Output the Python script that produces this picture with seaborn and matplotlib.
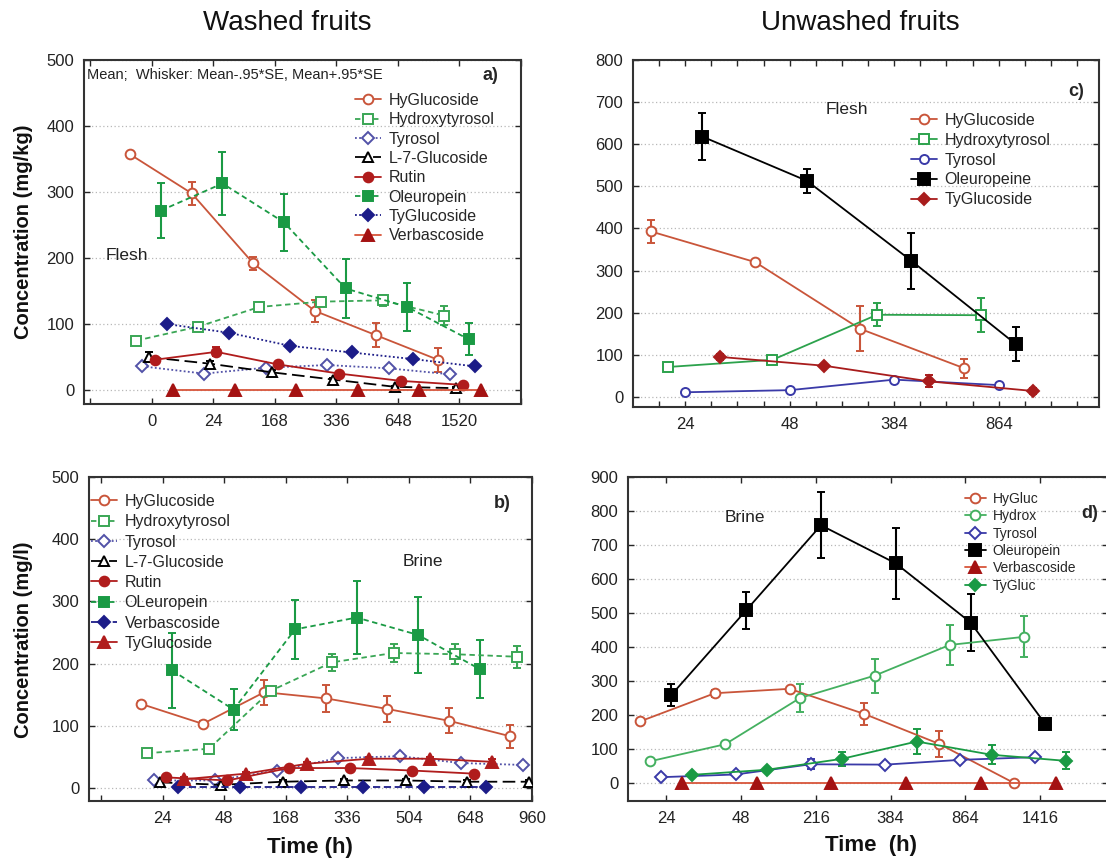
import numpy as np
import pandas as pd
import matplotlib
matplotlib.use("Agg")
import matplotlib.pyplot as plt
import seaborn as sns
from matplotlib.ticker import FixedLocator

# ---------------- data ----------------
# a) washed fruits, flesh (mg/kg)
A_TIMES = ["0", "24", "168", "336", "648", "1520"]
A_HYGLUCOSIDE = [357, 298, 192, 120, 83, 46]
A_HYGLUCOSIDE_SE = [4, 17, 10, 17, 18, 18]
A_HYDROXYTYROSOL = [75, 96, 126, 134, 136, 113]
A_HYDROXYTYROSOL_SE = [4, 5, 8, 6, 8, 14]
A_TYROSOL = [36, 25, 34, 38, 33, 24]
A_TYROSOL_SE = [3, 3, 3, 3, 3, 3]
A_L7GLUCOSIDE = [50, 40, 27, 16, 5, 3]
A_L7GLUCOSIDE_SE = [7, 4, 3, 3, 2, 2]
A_RUTIN = [46, 58, 39, 25, 14, 8]
A_RUTIN_SE = [4, 7, 3, 3, 2, 2]
A_OLEUROPEIN = [272, 313, 254, 154, 126, 77]
A_OLEUROPEIN_SE = [41, 48, 43, 45, 37, 24]
A_TYGLUCOSIDE = [100, 87, 67, 57, 47, 36]
A_TYGLUCOSIDE_SE = [3, 3, 3, 3, 3, 3]
A_VERBASCOSIDE = [0, 0, 0, 0, 0, 0]

# b) washed fruits, brine (mg/l)
B_TIMES = ["24", "48", "168", "336", "504", "648", "960"]
B_HYGLUCOSIDE = [135, 103, 154, 144, 127, 108, 83]
B_HYGLUCOSIDE_SE = [4, 5, 20, 22, 21, 20, 18]
B_HYDROXYTYROSOL = [56, 63, 156, 202, 217, 215, 211]
B_HYDROXYTYROSOL_SE = [3, 4, 5, 14, 15, 16, 18]
B_TYROSOL = [12, 12, 28, 48, 51, 40, 37]
B_TYROSOL_SE = [3, 3, 3, 3, 3, 3, 3]
B_L7GLUCOSIDE = [9, 5, 10, 12, 12, 10, 10]
B_L7GLUCOSIDE_SE = [2, 2, 2, 2, 2, 2, 2]
B_RUTIN = [17, 12, 32, 32, 28, 23]
B_RUTIN_SE = [3, 3, 3, 3, 3, 3]
B_OLEUROPEIN = [189, 126, 255, 274, 246, 191]
B_OLEUROPEIN_SE = [60, 33, 48, 58, 61, 47]
B_VERBASCOSIDE = [2, 2, 2, 2, 2, 2]
B_TYGLUCOSIDE = [14, 23, 39, 47, 47, 42]
B_TYGLUCOSIDE_SE = [3, 3, 3, 3, 3, 5]

# c) unwashed fruits, flesh (mg/kg)
C_TIMES = ["24", "48", "384", "864"]
C_HYGLUCOSIDE = [393, 320, 162, 68]
C_HYGLUCOSIDE_SE = [28, 6, 53, 22]
C_HYDROXYTYROSOL = [71, 88, 195, 194]
C_HYDROXYTYROSOL_SE = [4, 4, 27, 40]
C_TYROSOL = [11, 16, 41, 28]
C_TYROSOL_SE = [3, 3, 4, 4]
C_OLEUROPEINE = [618, 513, 323, 125]
C_OLEUROPEINE_SE = [55, 29, 67, 40]
C_TYGLUCOSIDE = [95, 74, 37, 14]
C_TYGLUCOSIDE_SE = [8, 5, 14, 8]

# d) unwashed fruits, brine (mg/l)
D_TIMES = ["24", "48", "216", "384", "864", "1416"]
D_HYGLUC = [181, 264, 277, 203, 115, 0]
D_HYGLUC_SE = [5, 10, 5, 32, 38, 3]
D_HYDROX = [64, 114, 250, 316, 406, 430]
D_HYDROX_SE = [4, 6, 40, 50, 60, 60]
D_TYROSOL = [17, 25, 55, 54, 68, 76]
D_TYROSOL_SE = [3, 3, 15, 5, 5, 5]
D_OLEUROPEIN = [259, 508, 758, 646, 472, 173]
D_OLEUROPEIN_SE = [32, 55, 97, 105, 83, 15]
D_VERBASCOSIDE = [0, 0, 0, 0, 0, 0]
D_TYGLUC = [24, 39, 71, 122, 83, 65]
D_TYGLUC_SE = [3, 5, 20, 38, 28, 25]

# ---------------- styling ----------------
sns.set_theme(style="ticks")
plt.rcParams["font.family"] = ["Liberation Sans", "DejaVu Sans"]
plt.rcParams["axes.unicode_minus"] = False

W, H = 1106, 861
fig = plt.figure(figsize=(W / 100, H / 100), dpi=100)
fig.patch.set_facecolor("white")


def fx(px):
    return px / W


def fy(py):
    return 1 - py / H


RED = "#c9553a"
DKRED = "#b01c1c"
TRI_RED = "#a41212"
GREEN_L = "#3aa655"
GREEN = "#1a9a44"
NAVY_L = "#5252a8"
NAVY = "#1c1c88"

SOLID = "-"
SHORT = (0, (3, 2))
DOT = (0, (1, 1.3))
LONG = (0, (7, 3))


def series(ax, pos, values, errs, color, marker, filled, ls, mcolor=None, ms=7.0, lw=1.3):
    mc = mcolor or color
    x = np.arange(len(values)) + pos
    df = pd.DataFrame({"t": x, "c": values})
    sns.lineplot(data=df, x="t", y="c", ax=ax, color=color, linestyle=ls, linewidth=lw,
                 marker=marker, markersize=ms, markerfacecolor=mc if filled else "white",
                 markeredgecolor=mc, markeredgewidth=1.4, errorbar=None, legend=False,
                 sort=False, zorder=3)
    line = ax.lines[-1]
    if errs is not None:
        ax.errorbar(x, values, yerr=errs, fmt="none", ecolor=mc, elinewidth=1.5,
                    capsize=2.8, capthick=1.4, zorder=2)
    return line


def frame(ax, cats, xlim, ylim, ystep, minor=None):
    ax.set_xlim(*xlim)
    ax.set_ylim(*ylim)
    ax.xaxis.set_major_locator(FixedLocator(np.arange(len(cats))))
    ax.set_xticklabels(cats)
    if minor is not None:
        ax.xaxis.set_minor_locator(FixedLocator(minor))
    ax.set_yticks(np.arange(0, ylim[1] + 1, ystep))
    ax.set_xlabel("")
    ax.set_ylabel("")
    ax.tick_params(axis="both", which="both", direction="in", top=True, right=True,
                   length=4, width=1.0, labelsize=12, labelcolor="#222222", pad=7)
    ax.yaxis.grid(True, linestyle=(0, (1, 2)), color="#b8b8b8", linewidth=0.9)
    ax.set_axisbelow(True)
    for sp in ax.spines.values():
        sp.set_linewidth(1.5)
        sp.set_color("#333333")


def legend(ax, handles, labels, left, top, fs=11.5, hl=1.6, spacing=0.27):
    ax.legend(handles, labels, loc="upper left", bbox_to_anchor=(fx(left), fy(top)),
              bbox_transform=fig.transFigure, frameon=False, fontsize=fs, handlelength=hl,
              handletextpad=0.5, labelspacing=spacing, borderpad=0, borderaxespad=0,
              numpoints=1)


# ---------------- a) washed, flesh ----------------
ax_a = fig.add_axes([fx(84), fy(404), fx(521) - fx(84), (404 - 60) / H])
off8 = np.linspace(-0.35, 0.35, 8)
h = [
    series(ax_a, off8[0], A_HYGLUCOSIDE, A_HYGLUCOSIDE_SE, RED, "o", False, SOLID),
    series(ax_a, off8[1], A_HYDROXYTYROSOL, A_HYDROXYTYROSOL_SE, GREEN_L, "s", False, SHORT),
    series(ax_a, off8[2], A_TYROSOL, A_TYROSOL_SE, NAVY_L, "D", False, DOT, ms=6),
    series(ax_a, off8[3], A_L7GLUCOSIDE, A_L7GLUCOSIDE_SE, "black", "^", False, LONG),
    series(ax_a, off8[4], A_RUTIN, A_RUTIN_SE, DKRED, "o", True, SOLID),
    series(ax_a, off8[5], A_OLEUROPEIN, A_OLEUROPEIN_SE, GREEN, "s", True, SHORT),
    series(ax_a, off8[6], A_TYGLUCOSIDE, A_TYGLUCOSIDE_SE, NAVY, "D", True, DOT, ms=6.5),
    series(ax_a, off8[7], A_VERBASCOSIDE, None, "#d8553a", "^", True, SOLID, mcolor=TRI_RED, ms=8.5),
]
frame(ax_a, A_TIMES, (-1.1, 6.0), (-21, 500), 100, minor=[-1, 6])
legend(ax_a, h, ["HyGlucoside", "Hydroxytyrosol", "Tyrosol", "L-7-Glucoside", "Rutin",
                 "Oleuropein", "TyGlucoside", "Verbascoside"], 355, 93)

# ---------------- c) unwashed, flesh ----------------
ax_c = fig.add_axes([fx(633), fy(407), fx(1099) - fx(633), (407 - 60) / H])
off5 = np.linspace(-0.33, 0.33, 5)
h = [
    series(ax_c, off5[0], C_HYGLUCOSIDE, C_HYGLUCOSIDE_SE, RED, "o", False, SOLID),
    series(ax_c, off5[1], C_HYDROXYTYROSOL, C_HYDROXYTYROSOL_SE, "#2ca24c", "s", False, SOLID),
    series(ax_c, off5[2], C_TYROSOL, C_TYROSOL_SE, "#3a3aa8", "o", False, SOLID, ms=6.5),
    series(ax_c, off5[3], C_OLEUROPEINE, C_OLEUROPEINE_SE, "black", "s", True, SOLID, ms=8.5),
    series(ax_c, off5[4], C_TYGLUCOSIDE, C_TYGLUCOSIDE_SE, "#a81c1c", "D", True, SOLID, ms=6.5),
]
frame(ax_c, C_TIMES, (-0.5, 3.96), (-24, 800), 100, minor=np.arange(-0.25, 4.0, 0.25))
legend(ax_c, h, ["HyGlucoside", "Hydroxytyrosol", "Tyrosol", "Oleuropeine", "TyGlucoside"],
       911, 113, spacing=0.3)

# ---------------- b) washed, brine ----------------
ax_b = fig.add_axes([fx(89), fy(801), fx(532) - fx(89), (801 - 477) / H])
h = [
    series(ax_b, off8[0], B_HYGLUCOSIDE, B_HYGLUCOSIDE_SE, RED, "o", False, SOLID),
    series(ax_b, off8[1], B_HYDROXYTYROSOL, B_HYDROXYTYROSOL_SE, GREEN_L, "s", False, SHORT),
    series(ax_b, off8[2], B_TYROSOL, B_TYROSOL_SE, NAVY_L, "D", False, DOT, ms=6),
    series(ax_b, off8[3], B_L7GLUCOSIDE, B_L7GLUCOSIDE_SE, "black", "^", False, LONG),
    series(ax_b, off8[4], B_RUTIN, B_RUTIN_SE, DKRED, "o", True, SOLID),
    series(ax_b, off8[5], B_OLEUROPEIN, B_OLEUROPEIN_SE, GREEN, "s", True, SHORT),
    series(ax_b, off8[6], B_VERBASCOSIDE, None, NAVY, "D", True, (0, (4, 2)), ms=6.5),
    series(ax_b, off8[7], B_TYGLUCOSIDE, B_TYGLUCOSIDE_SE, DKRED, "^", True, SOLID, ms=8.5),
]
frame(ax_b, B_TIMES, (-1.2, 6.0), (-21, 500), 100, minor=[-1])
legend(ax_b, h, ["HyGlucoside", "Hydroxytyrosol", "Tyrosol", "L-7-Glucoside", "Rutin",
                 "OLeuropein", "Verbascoside", "TyGlucoside"], 91, 494, spacing=0.33)

# ---------------- d) unwashed, brine ----------------
ax_d = fig.add_axes([fx(628), fy(801), 1.002 - fx(628), (801 - 477) / H])
off6 = np.linspace(-0.35, 0.35, 6)
h = [
    series(ax_d, off6[0], D_HYGLUC, D_HYGLUC_SE, RED, "o", False, SOLID),
    series(ax_d, off6[1], D_HYDROX, D_HYDROX_SE, "#44b060", "o", False, SOLID),
    series(ax_d, off6[2], D_TYROSOL, D_TYROSOL_SE, "#3a3aa8", "D", False, SOLID, ms=6.5),
    series(ax_d, off6[3], D_OLEUROPEIN, D_OLEUROPEIN_SE, "black", "s", True, SOLID, ms=8.5),
    series(ax_d, off6[4], D_VERBASCOSIDE, None, "#d8553a", "^", True, SOLID, mcolor=TRI_RED, ms=8.5),
    series(ax_d, off6[5], D_TYGLUC, D_TYGLUC_SE, GREEN, "D", True, SOLID, ms=6),
]
frame(ax_d, D_TIMES, (-0.51, 5.91), (-53, 900), 100)
legend(ax_d, h, ["HyGluc", "Hydrox", "Tyrosol", "Oleuropein", "Verbascoside", "TyGluc"],
       965, 492, fs=10, hl=1.5, spacing=0.24)

# ---------------- annotations ----------------
fig.text(fx(287), fy(23), "Washed fruits", ha="center", va="center", fontsize=20, color="#111111")
fig.text(fx(860), fy(23), "Unwashed fruits", ha="center", va="center", fontsize=20, color="#111111")

fig.text(fx(24), fy(232), "Concentration (mg/kg)", rotation=90, ha="center", va="center",
         fontsize=14.5, fontweight="bold", color="#111111")
fig.text(fx(24), fy(640), "Concentration (mg/l)", rotation=90, ha="center", va="center",
         fontsize=14.5, fontweight="bold", color="#111111")
fig.text(fx(310), fy(847), "Time (h)", ha="center", va="center", fontsize=16,
         fontweight="bold", color="#111111")
fig.text(fx(871), fy(846), "Time  (h)", ha="center", va="center", fontsize=16,
         fontweight="bold", color="#111111")

fig.text(fx(87), fy(75), "Mean;  Whisker: Mean-.95*SE, Mean+.95*SE", ha="left", va="center",
         fontsize=10.5, color="#222222")
fig.text(fx(490), fy(75), "a)", ha="center", va="center", fontsize=13, fontweight="bold")
fig.text(fx(502), fy(503), "b)", ha="center", va="center", fontsize=13, fontweight="bold")
fig.text(fx(1076), fy(92), "c)", ha="center", va="center", fontsize=13, fontweight="bold")
fig.text(fx(1090), fy(513), "d)", ha="center", va="center", fontsize=13, fontweight="bold")

fig.text(fx(127), fy(255), "Flesh", ha="center", va="center", fontsize=12.5, color="#222222")
fig.text(fx(847), fy(109), "Flesh", ha="center", va="center", fontsize=12.5, color="#222222")
fig.text(fx(423), fy(562), "Brine", ha="center", va="center", fontsize=12.5, color="#222222")
fig.text(fx(745), fy(518), "Brine", ha="center", va="center", fontsize=12.5, color="#222222")

fig.savefig("out.png", dpi=100)
